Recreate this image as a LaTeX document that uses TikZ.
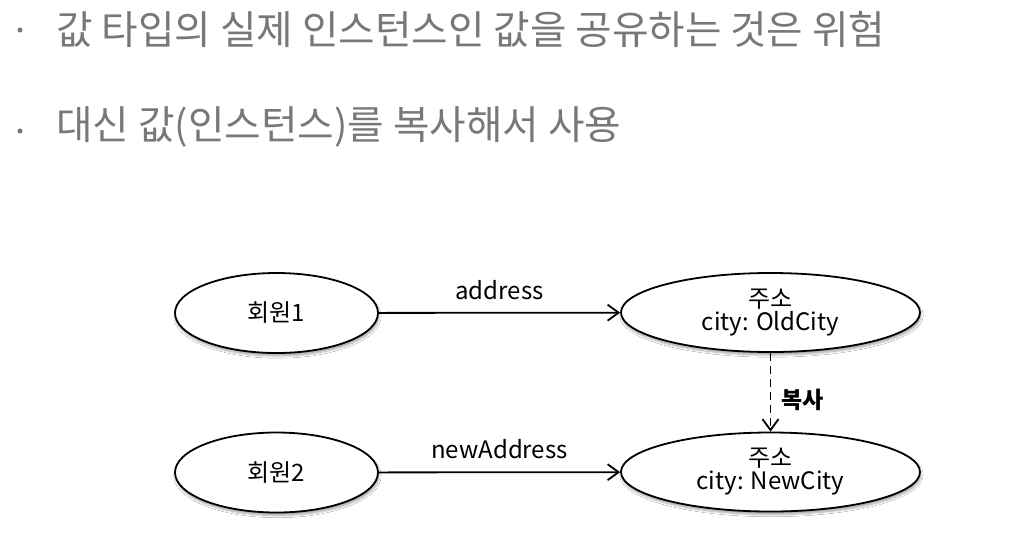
\documentclass[tikz,border=0pt]{standalone}
\usepackage{fontspec}
\setmainfont{Noto Sans CJK KR}
\usetikzlibrary{shapes.geometric,arrows.meta,shadows.blur}
\definecolor{bullgray}{RGB}{120,120,120}
\tikzset{
  ent/.style={ellipse, draw=black, line width=1.8pt, fill=white, minimum width=203pt, minimum height=80pt, inner sep=0pt,
    font=\fontsize{24}{27}\selectfont, align=center,
    blur shadow={shadow xshift=1pt, shadow yshift=-3pt, shadow blur steps=6, shadow opacity=35}},
  bigent/.style={ent, minimum width=299pt, minimum height=79pt},
  link/.style={line width=1.8pt, -{Straight Barb[length=11pt,width=16pt,line width=1.8pt]}},
  copylink/.style={link, dash pattern=on 8pt off 5pt},
  lbl/.style={font=\fontsize{24}{27}\selectfont},
  bul/.style={anchor=west, text=bullgray, font=\fontsize{39.7}{42}\selectfont, inner sep=0pt},
  dot/.style={circle, fill=bullgray, inner sep=0pt, minimum size=5pt}
}
\begin{document}
\begin{tikzpicture}[x=1pt,y=-1pt]
\useasboundingbox (0,0) rectangle (1035,558);
\fill[white] (0,0) rectangle (1035,558);
\node[dot] (b1) at (20,30) {};
\node[bul] (t1) at (56,29) {값 타입의 실제 인스턴스인 값을 공유하는 것은 위험};
\node[dot] (b2) at (20,131) {};
\node[bul] (t2) at (56,127) {대신 값(인스턴스)를 복사해서 사용};

\node[ent] (m1) at (276.5,313) {회원1};
\node[ent] (m2) at (276.5,472.5) {회원2};
\node[bigent] (a1) at (770.5,312.5) {주소\\[-4pt]city: OldCity};
\node[bigent] (a2) at (770.5,472) {주소\\[-4pt]city: NewCity};

\draw[link] (m1) -- node[lbl, above=9pt] {address} (a1);
\draw[link] (m2) -- node[lbl, above=9pt] {newAddress} (a2);
\draw[copylink] (a1) -- node[pos=0.6, right=7pt, font=\fontsize{23}{26}\selectfont\bfseries] {복사} (a2);
\end{tikzpicture}
\end{document}
